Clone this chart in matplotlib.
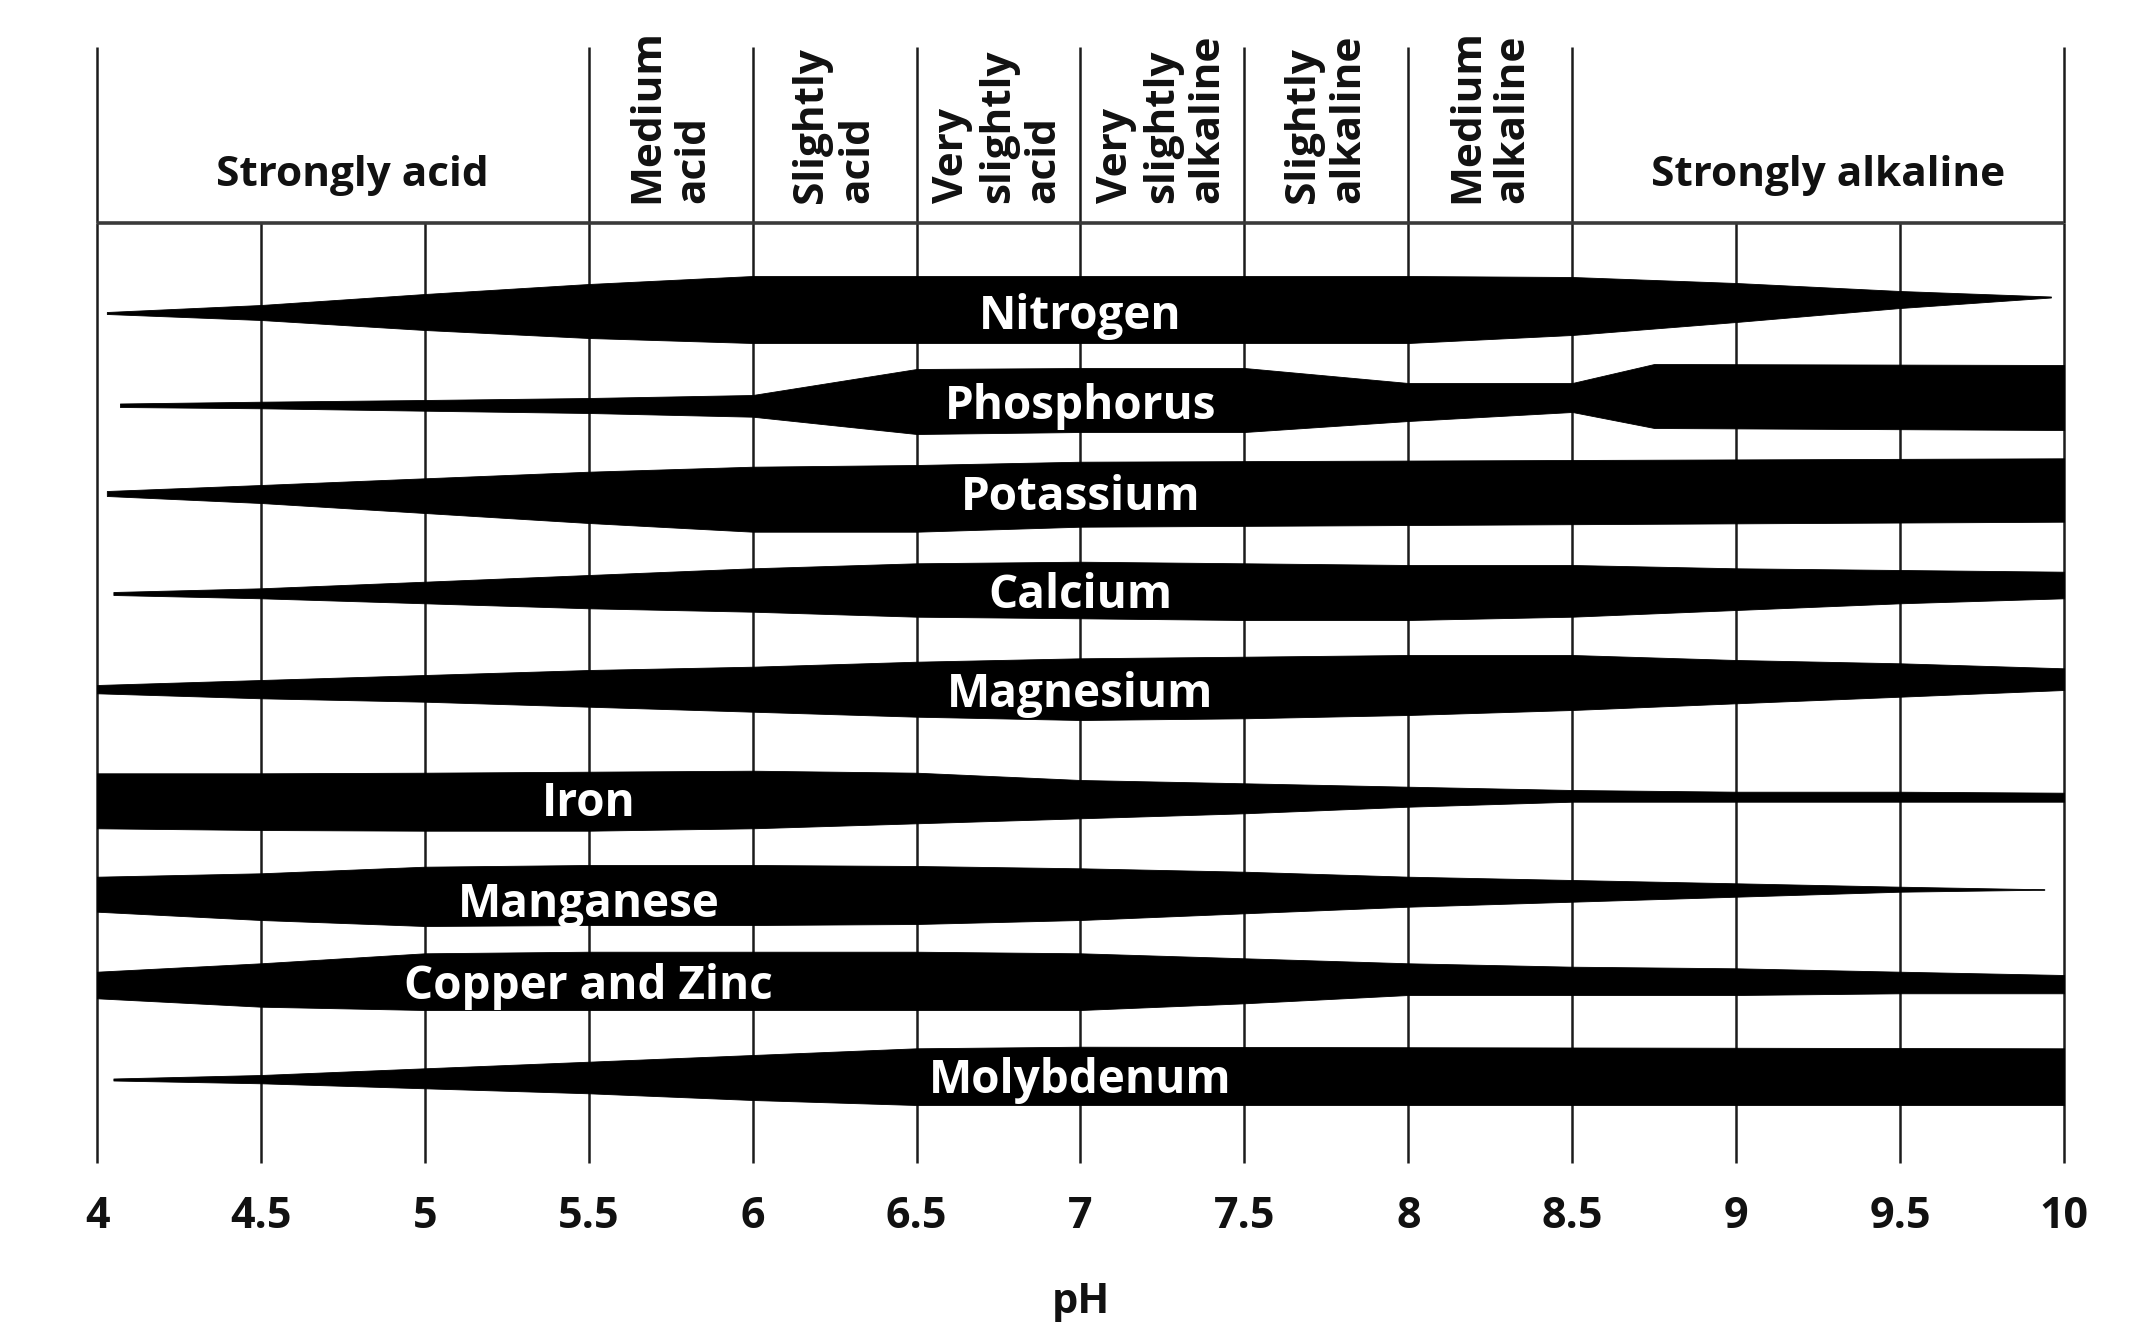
import matplotlib
matplotlib.use('Agg')
import matplotlib.pyplot as plt

plt.rcParams['font.family'] = ['Open Sans', 'DejaVu Sans']

# ---------------- data ----------------
ph_ticks = [4, 4.5, 5, 5.5, 6, 6.5, 7, 7.5, 8, 8.5, 9, 9.5, 10]
tick_labels = ['4', '4.5', '5', '5.5', '6', '6.5', '7', '7.5', '8', '8.5', '9', '9.5', '10']

zone_bounds = [4, 5.5, 6, 6.5, 7, 7.5, 8, 8.5, 10]
zone_labels = ['Strongly acid', 'Medium\nacid', 'Slightly\nacid', 'Very\nslightly\nacid',
               'Very\nslightly\nalkaline', 'Slightly\nalkaline', 'Medium\nalkaline',
               'Strongly alkaline']

nutrients = ['Nitrogen', 'Phosphorus', 'Potassium', 'Calcium', 'Magnesium',
             'Iron', 'Manganese', 'Copper and Zinc', 'Molybdenum']
label_ph = [7, 7, 7, 7, 7, 5.5, 5.5, 5.5, 7]

# band edges (chart units, measured downward from top) at given pH points
nitrogen_ph = [4.03, 4.5, 5, 5.5, 6, 8, 8.5, 9, 9.5, 9.96]
nitrogen_top = [312, 305, 294, 284, 276, 276, 277, 283, 291, 296.5]
nitrogen_bot = [314, 320, 330, 338, 343, 343, 335, 322, 308, 297.5]

phosphorus_ph = [4.07, 4.5, 5, 5.5, 6, 6.5, 7, 7.5, 8, 8.5, 8.75, 10]
phosphorus_top = [403.5, 401.7, 400, 398, 395, 369, 368, 368, 383, 383, 364, 365]
phosphorus_bot = [407, 408.3, 410.7, 413, 416.7, 434, 432, 432, 421, 412, 428, 430]

potassium_ph = [4.03, 4.5, 5, 5.5, 6, 6.5, 7, 10]
potassium_top = [491, 485, 478.3, 471.7, 466.7, 465, 461.7, 458.3]
potassium_bot = [496, 503, 513, 523, 531.7, 531.7, 526.7, 521.7]

calcium_ph = [4.05, 4.5, 5, 5.5, 6, 6.5, 7, 7.5, 8, 8.5, 9, 9.5, 10]
calcium_top = [592, 588.3, 581.7, 575, 568.3, 563.3, 561.7, 563.3, 565, 565, 568.3, 570, 571.7]
calcium_bot = [595, 598.3, 603.3, 608.3, 611.7, 616.7, 618.3, 620, 620, 616.7, 610, 603.3, 598.3]

magnesium_ph = [4, 4.5, 5, 5.5, 6, 6.5, 7, 7.5, 8, 8.5, 9, 9.5, 10]
magnesium_top = [685, 680, 675, 670, 666.7, 661.7, 658.3, 656.7, 655, 655, 660, 663.3, 668.3]
magnesium_bot = [693.3, 698.3, 701.7, 706.7, 711.7, 716.7, 720, 718.3, 715, 710, 703.3, 696.7, 690]

iron_ph = [4, 4.5, 5, 5.5, 6, 6.5, 7, 7.5, 8, 8.5, 9, 9.5, 10]
iron_top = [773.3, 773.3, 772.7, 771.7, 770.7, 772.7, 780, 783.3, 786.7, 790, 791.7, 791.7, 792.7]
iron_bot = [828.3, 830, 830.7, 830.7, 828.3, 823.3, 818.3, 813.3, 806.7, 801.7, 801.7, 801.7, 801.7]

manganese_ph = [4, 4.5, 5, 5.5, 6, 6.5, 7, 7.5, 8, 8.5, 9, 9.5, 9.94]
manganese_top = [876.7, 873.3, 866.7, 865, 865, 866, 868.3, 871.7, 876.7, 880, 883.3, 886.7, 889.3]
manganese_bot = [911.7, 920, 926, 925, 925, 924, 920, 913.3, 906.7, 901.7, 896.7, 891.7, 889.7]

copper_zinc_ph = [4, 4.5, 5, 5.5, 6, 6.5, 7, 7.5, 8, 8.5, 9, 9.5, 10]
copper_zinc_top = [971.7, 963.3, 953.3, 951.7, 951.7, 951.7, 953.3, 958.3, 963.3, 966.7, 968.3, 971.7, 975]
copper_zinc_bot = [998.3, 1006.7, 1010, 1010, 1010, 1010, 1010, 1003.3, 995, 995, 995, 993.3, 993.3]

molybdenum_ph = [4.05, 4.5, 5, 5.5, 6, 6.5, 7, 10]
molybdenum_top = [1078.5, 1075, 1068.3, 1061.7, 1055, 1048.3, 1046.7, 1048.3]
molybdenum_bot = [1080.5, 1083.3, 1088.3, 1093.3, 1100, 1105, 1105, 1105]

bands = [
    (nitrogen_ph, nitrogen_top, nitrogen_bot),
    (phosphorus_ph, phosphorus_top, phosphorus_bot),
    (potassium_ph, potassium_top, potassium_bot),
    (calcium_ph, calcium_top, calcium_bot),
    (magnesium_ph, magnesium_top, magnesium_bot),
    (iron_ph, iron_top, iron_bot),
    (manganese_ph, manganese_top, manganese_bot),
    (copper_zinc_ph, copper_zinc_top, copper_zinc_bot),
    (molybdenum_ph, molybdenum_top, molybdenum_bot),
]

# ---------------- layout ----------------
W, H = 2138, 1322
Y_TOP, Y_HEAD, Y_BOT = 47, 223, 1163
label_y = [316, 406, 497, 596, 694, 804, 904, 986, 1080]

fig = plt.figure(figsize=(W / 100, H / 100), dpi=100)
fig.patch.set_facecolor('white')
x0, x1 = 97, 2064
ax = fig.add_axes([x0 / W, 1 - Y_BOT / H, (x1 - x0) / W, (Y_BOT - Y_TOP) / H])
ax.set_xlim(4, 10)
ax.set_ylim(Y_BOT, Y_TOP)
for s in ax.spines.values():
    s.set_visible(False)
ax.set_yticks([])

line_col = '#1c1c1c'
# body grid lines
ax.vlines(ph_ticks, Y_HEAD, Y_BOT, colors=line_col, lw=1.8, zorder=2, clip_on=False)
# header zone lines
ax.vlines(zone_bounds, Y_TOP, Y_HEAD, colors=line_col, lw=1.8, zorder=2, clip_on=False)
ax.hlines(Y_HEAD, 4, 10, colors='#3a3a3a', lw=2.6, zorder=2, clip_on=False)

# bands
for (ph, top, bot) in bands:
    ax.fill_between(ph, top, bot, color='black', lw=0.6, edgecolor='black', zorder=3)

for name, lx, ly in zip(nutrients, label_ph, label_y):
    ax.text(lx, ly, name, ha='center', va='center', color='white',
            fontsize=33, fontweight='bold', zorder=5)

# zone labels
for i, lab in enumerate(zone_labels):
    a, b = zone_bounds[i], zone_bounds[i + 1]
    mid = (a + b) / 2
    if '\n' in lab:
        ax.text(mid, 203, lab, rotation=90, ha='center', va='bottom',
                multialignment='left', fontsize=30.5, fontweight='bold',
                color='#111111', linespacing=1.15, clip_on=False)
    else:
        ax.text(mid + 0.03, 175, lab, ha='center', va='center', fontsize=30.5,
                fontweight='bold', color='#111111', clip_on=False)

ax.set_xticks(ph_ticks)
ax.set_xticklabels(tick_labels, fontsize=31, fontweight='bold', color='#111111')
ax.tick_params(axis='x', length=0, pad=23)
ax.set_xlabel('pH', fontsize=30, fontweight='bold', color='#111111', labelpad=32)

fig.savefig('out.png', dpi=100, facecolor='white')
